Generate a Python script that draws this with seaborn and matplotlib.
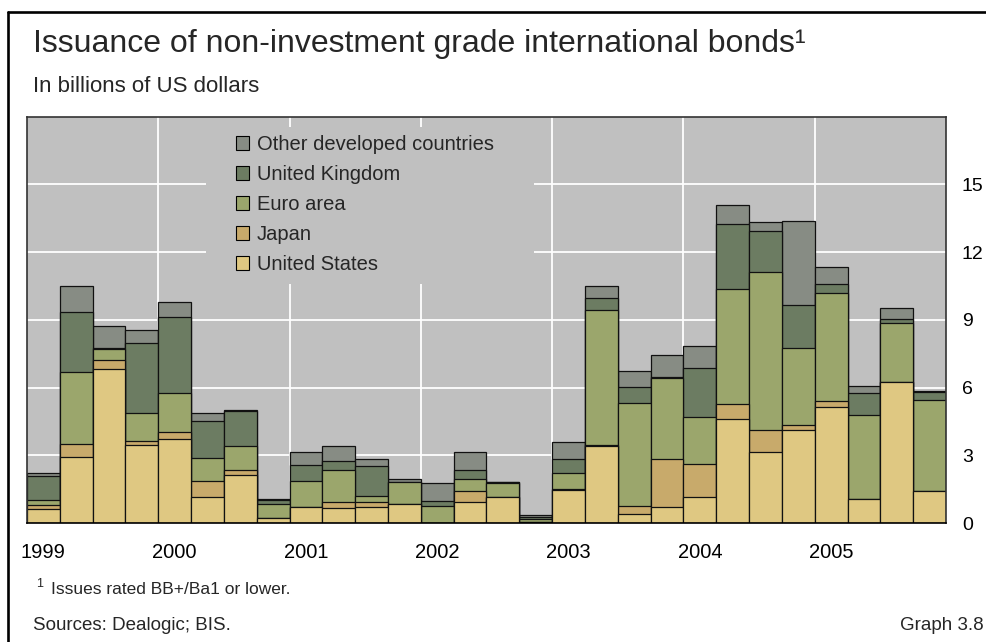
"""Stacked quarterly bars: non-investment grade international bond issuance."""

import pandas as pd
import matplotlib.pyplot as plt
from matplotlib.lines import Line2D
from matplotlib.patches import Patch, Rectangle
import seaborn as sns

years = [1999, 2000, 2001, 2002, 2003, 2004, 2005]
quarters = [f'{y}Q{q}' for y in years for q in range(1, 5)]

# billions of US dollars, one value per quarter
us = [0.63, 2.94, 6.83, 3.44, 3.73, 1.14, 2.11, 0.20, 0.69, 0.66, 0.73, 0.86, 0.00, 0.95,
      1.13, 0.03, 1.48, 3.40, 0.42, 0.69, 1.13, 4.61, 3.16, 4.13, 5.15, 1.05, 6.24, 1.42]
japan = [0.15, 0.57, 0.37, 0.19, 0.29, 0.74, 0.25, 0.03, 0.00, 0.25, 0.21, 0.00, 0.00, 0.47,
         0.00, 0.00, 0.02, 0.05, 0.35, 2.16, 1.48, 0.66, 0.97, 0.22, 0.27, 0.02, 0.00, 0.00]
euro = [0.26, 3.18, 0.52, 1.23, 1.74, 1.01, 1.06, 0.60, 1.17, 1.45, 0.26, 0.94, 0.77, 0.52,
        0.64, 0.13, 0.70, 6.00, 4.53, 3.57, 2.07, 5.09, 7.01, 3.41, 4.75, 3.72, 2.61, 4.03]
uk = [1.04, 2.64, 0.05, 3.11, 3.37, 1.65, 1.55, 0.20, 0.72, 0.39, 1.31, 0.03, 0.22, 0.39,
      0.03, 0.10, 0.62, 0.53, 0.74, 0.03, 2.18, 2.87, 1.79, 1.90, 0.44, 0.97, 0.17, 0.35]
other = [0.15, 1.19, 0.94, 0.58, 0.64, 0.32, 0.05, 0.03, 0.57, 0.67, 0.32, 0.12, 0.80, 0.83,
         0.02, 0.08, 0.75, 0.50, 0.70, 0.99, 0.97, 0.85, 0.39, 3.72, 0.72, 0.32, 0.52, 0.06]

series = ['United States', 'Japan', 'Euro area', 'United Kingdom', 'Other developed countries']
colors = {'United States': '#dfc882', 'Japan': '#c8aa6b', 'Euro area': '#9ba66c',
          'United Kingdom': '#6c7c62', 'Other developed countries': '#878c84'}
yticks = [0, 3, 6, 9, 12, 15]

BG = '#c0c0c0'
W, H = 987, 642


def main():
   sns.set_theme(style='white')
   plt.rcParams['font.family'] = ['Liberation Sans', 'DejaVu Sans']

   df = pd.DataFrame({'Quarter': quarters, 'United States': us, 'Japan': japan,
                      'Euro area': euro, 'United Kingdom': uk,
                      'Other developed countries': other})
   stack = df[series].cumsum(axis=1)

   fig = plt.figure(figsize=(W / 100, H / 100), dpi=100)
   ax = fig.add_axes([27 / W, (H - 523) / H, (946 - 27) / W, (523 - 116.7) / H])
   ax.set_facecolor(BG)

   # draw cumulative totals from the top layer down so each one hides the rest
   for name in reversed(series):
      sns.barplot(x=df['Quarter'], y=stack[name], color=colors[name], saturation=1,
                  width=1.0, edgecolor='#111111', linewidth=0.9, errorbar=None,
                  ax=ax, zorder=2)

   ax.set_xlim(-0.5, len(quarters) - 0.5)
   ax.set_ylim(0, 18)
   ax.set_xlabel('')
   ax.set_ylabel('')
   ax.set_axisbelow(True)
   ax.yaxis.grid(True, color='white', lw=1.3)
   for i in range(1, len(years)):
      ax.axvline(4 * i - 0.5, color='white', lw=1.3, zorder=0.6)

   ax.set_xticks(range(0, len(quarters), 4))
   ax.set_xticklabels([str(y) for y in years])
   ax.yaxis.tick_right()
   ax.set_yticks(yticks)
   ax.tick_params(axis='x', length=0, pad=14.5, labelsize=14.5, colors='black')
   ax.tick_params(axis='y', length=0, pad=11.5, labelsize=14, colors='black')
   for side in ['left', 'right', 'top']:
      ax.spines[side].set_color('#333333')
      ax.spines[side].set_linewidth(1.2)
   ax.spines['bottom'].set_color('black')
   ax.spines['bottom'].set_linewidth(1.2)

   # legend sits on a patch of background that hides the grid
   ax.add_patch(Rectangle((0.195, 0.589), 0.357, 0.386, transform=ax.transAxes,
                          facecolor=BG, edgecolor='none', zorder=1))
   handles = [Patch(facecolor=colors[n], edgecolor='black', lw=0.8) for n in reversed(series)]
   ax.legend(handles, list(reversed(series)), loc='upper left',
             bbox_to_anchor=(0.2274, 0.955), frameon=False, fontsize=14.5,
             handlelength=0.66, handleheight=0.66, handletextpad=0.36,
             labelspacing=0.55, borderpad=0, borderaxespad=0)

   fig.text(33 / W, 1 - 52 / H, 'Issuance of non-investment grade international bonds¹',
            fontsize=23, va='baseline')
   fig.text(33 / W, 1 - 91.5 / H, 'In billions of US dollars', fontsize=16, va='baseline')
   fig.text(36 / W, 1 - 587 / H, '1', fontsize=9, va='baseline')
   fig.text(51 / W, 1 - 594 / H, 'Issues rated BB+/Ba1 or lower.', fontsize=12.5,
            va='baseline')
   fig.text(33 / W, 1 - 630 / H, 'Sources: Dealogic; BIS.', fontsize=13.5, va='baseline')
   fig.text(984 / W, 1 - 630 / H, 'Graph 3.8', fontsize=13.5, va='baseline', ha='right')

   # frame lines along the left and top of the panel
   fig.add_artist(Line2D([8 / W, 8 / W], [0, 1 - 12 / H], color='black', lw=1.9,
                         transform=fig.transFigure))
   fig.add_artist(Line2D([8 / W, 1], [1 - 12 / H, 1 - 12 / H], color='black', lw=1.9,
                         transform=fig.transFigure))

   fig.savefig('out.png', dpi=100)


if __name__ == '__main__':
   main()
